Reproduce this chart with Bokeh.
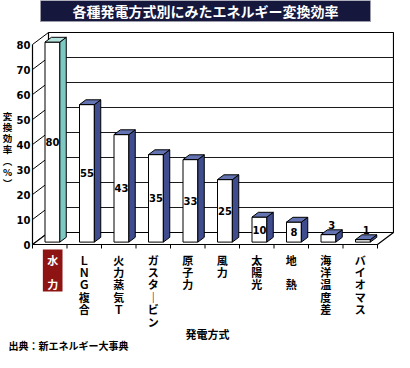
from bokeh.plotting import figure
from bokeh.models import Range1d
from bokeh.core.properties import value
from bokeh.embed import file_html
from bokeh.resources import INLINE

# ---------------- data ----------------
categories = ["水力", "LNG複合", "火力蒸気T", "ガスタービン", "原子力",
              "風力", "太陽光", "地熱", "海洋温度差", "バイオマス"]
category_labels = ["水\n\u3000\n力", "Ｌ\nＮ\nＧ\n複\n合", "火\n力\n蒸\n気\nＴ",
                   "ガ\nス\nタ\n｜\nビ\nン", "原\n子\n力", "風\n力", "太\n陽\n光",
                   "地\n\u3000\n熱", "海\n洋\n温\n度\n差", "バ\nイ\nオ\nマ\nス"]
efficiency = [80, 55, 43, 35, 33, 25, 10, 8, 3, 1]
y_ticks = [0, 10, 20, 30, 40, 50, 60, 70, 80]
y_tick_labels = ["0", "10", "20", "30", "40", "50", "60", "70", "80"]
title_text = "各種発電方式別にみたエネルギー変換効率"
y_title = "変\n換\n効\n率\n︵\n%\n︶"
x_title = "発電方式"
source_text = "出典：新エネルギー大事典"

# ---------------- layout (pixels) ----------------
W, H = 394, 352
CAT_PX = 34.5
VAL_PX = 2.5
X0 = 32.0
Y0 = 244.0


def dx(px):
    return px / CAT_PX


def dy(px):
    return px / VAL_PX


def cx(px):  # canvas x -> data
    return (px - X0) / CAT_PX


def cy(py):  # canvas y (from top) -> data
    return (Y0 - py) / VAL_PX


p = figure(width=W, height=H, output_backend="svg", toolbar_location=None,
           x_range=Range1d(cx(0), cx(W)), y_range=Range1d(cy(H), cy(0)),
           min_border=0)
p.axis.visible = False
p.grid.visible = False
p.outline_line_color = None
p.background_fill_color = "white"
p.border_fill_color = "white"

n = len(categories)
DX = dx(16)
DY = dy(12)
vmax = y_ticks[-1]

# back wall
p.quad(left=DX, right=n + DX, bottom=DY, top=vmax + DY,
       fill_color="white", line_color="black", line_width=1.2)
inner = y_ticks[1:-1]
p.segment(x0=[DX] * len(inner), x1=[n + DX] * len(inner),
          y0=[t + DY for t in inner], y1=[t + DY for t in inner],
          line_color="#1a1a1a", line_width=1.2)
# left wall slanted tick lines
p.segment(x0=[0] * len(y_ticks), x1=[DX] * len(y_ticks),
          y0=y_ticks, y1=[t + DY for t in y_ticks],
          line_color="black", line_width=1)
# front axis
p.segment(x0=[0], x1=[0], y0=[0], y1=[vmax], line_color="black", line_width=1.2)
# floor
p.patch([0, n, n + DX, DX], [0, 0, DY, DY], fill_color="white",
        line_color="black", line_width=1.2)
ks = list(range(n + 1))
p.segment(x0=ks, x1=ks, y0=[0] * len(ks), y1=[-dy(4)] * len(ks),
          line_color="black", line_width=1)

# y tick labels
p.text(x=[-dx(2)] * len(y_ticks), y=y_ticks, text=y_tick_labels,
       text_align="right", text_baseline="middle",
       text_font=value("DejaVu Sans"), text_font_style="bold",
       text_font_size="10px", text_color="black")

# bars
fx0, fy0 = 0.2 * DX, 0.2 * DY
fx1, fy1 = 0.6 * DX, 0.6 * DY
side_colors = ["#7cc9c4"] + ["#3f4d8f"] * (n - 1)
top_colors = ["#b4e2de"] + ["#6474b2"] * (n - 1)
Ls = [i + 0.27 for i in range(n)]
Rs = [i + 0.70 for i in range(n)]
p.quad(left=[l + fx0 for l in Ls], right=[r + fx0 for r in Rs],
       bottom=[fy0] * n, top=[v + fy0 for v in efficiency],
       fill_color="white", line_color="black", line_width=1)
p.patches(xs=[[r + fx0, r + fx1, r + fx1, r + fx0] for r in Rs],
          ys=[[fy0, fy1, v + fy1, v + fy0] for v in efficiency],
          fill_color=side_colors, line_color="black", line_width=1)
p.patches(xs=[[l + fx0, r + fx0, r + fx1, l + fx1] for l, r in zip(Ls, Rs)],
          ys=[[v + fy0, v + fy0, v + fy1, v + fy1] for v in efficiency],
          fill_color=top_colors, line_color="black", line_width=1)

# value labels
lx, ly, lt, lb = [], [], [], []
for l, r, v in zip(Ls, Rs, efficiency):
    if v >= 5:
        lx.append((l + r) / 2 + fx0)
        ly.append(v / 2 + fy0)
        lb.append("middle")
    else:
        lx.append((l + r) / 2 + (fx0 + fx1) / 2)
        ly.append(v + fy1 + dy(1))
        lb.append("bottom")
    lt.append(str(v))
p.text(x=lx, y=ly, text=lt, text_align="center", text_baseline=lb,
       text_font=value("DejaVu Sans"), text_font_style="bold",
       text_font_size="10px", text_color="black")

# category labels
p.quad(left=[0 + 0.30], right=[0 + 0.87], bottom=[-dy(47)], top=[-dy(5)],
       fill_color="#8e1414", line_color=None)
lab_x = [i + (0.585 if i == 0 else 0.5) for i in range(n)]
lab_c = ["white"] + ["black"] * (n - 1)
p.text(x=lab_x, y=[-dy(7)] * n, text=category_labels, text_align="center",
       text_baseline="top", text_font=value("Noto Sans CJK JP"),
       text_font_style="bold", text_font_size="11px", text_color=lab_c,
       text_line_height=0.78)

# axis titles
p.text(x=[cx(7)], y=[38], text=[y_title], text_align="center",
       text_baseline="middle", text_font=value("Noto Sans CJK JP"),
       text_font_style="bold", text_font_size="9.5px", text_color="black",
       text_line_height=0.8)
p.text(x=[cx(207)], y=[cy(333)], text=[x_title], text_align="center",
       text_baseline="middle", text_font=value("Noto Sans CJK JP"),
       text_font_style="bold", text_font_size="11px", text_color="black")
p.text(x=[cx(8)], y=[cy(345)], text=[source_text], text_align="left",
       text_baseline="middle", text_font=value("Noto Sans CJK JP"),
       text_font_style="bold", text_font_size="10px", text_color="black")

# title box
p.quad(left=[cx(40)], right=[cx(370)], bottom=[cy(21)], top=[cy(0)],
       fill_color="#15173d", line_color="#9a9aa8", line_width=1)
p.text(x=[cx(205)], y=[cy(10.5)], text=[title_text], text_align="center",
       text_baseline="middle", text_font=value("Noto Sans CJK JP"),
       text_font_style="bold", text_font_size="14px", text_color="white")

open("out.html", "w").write(file_html(p, INLINE))
